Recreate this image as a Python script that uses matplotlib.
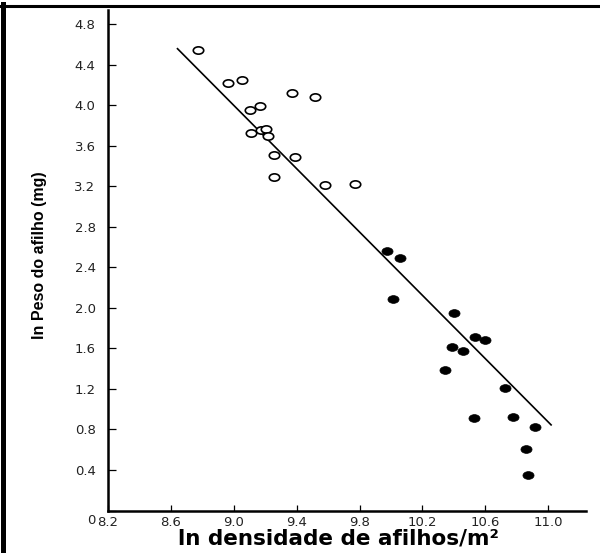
import matplotlib
matplotlib.use("Agg")
import matplotlib.pyplot as plt
from matplotlib.lines import Line2D
from matplotlib.path import Path
from matplotlib.transforms import Affine2D, ScaledTranslation

# open circles (lower density) and filled circles (higher density)
open_x = [8.774, 8.960, 9.055, 9.369, 9.518, 9.106, 9.165, 9.111, 9.170, 9.202,
          9.219, 9.257, 9.388, 9.257, 9.581, 9.772]
open_y = [4.541, 4.216, 4.252, 4.117, 4.084, 3.953, 3.995, 3.722, 3.758, 3.761,
          3.699, 3.504, 3.494, 3.291, 3.208, 3.225]
filled_x = [9.975, 10.054, 10.011, 10.399, 10.532, 10.600, 10.389, 10.456, 10.342,
            10.723, 10.526, 10.774, 10.918, 10.861, 10.872]
filled_y = [2.563, 2.491, 2.089, 1.948, 1.711, 1.681, 1.615, 1.575, 1.388,
            1.213, 0.914, 0.926, 0.822, 0.604, 0.348]

# fitted regression line end points
line_x = [8.642, 11.018]
line_y = [4.558, 0.845]

x_ticks = [8.2, 8.6, 9.0, 9.4, 9.8, 10.2, 10.6, 11.0]
y_ticks = [0, 0.4, 0.8, 1.2, 1.6, 2.0, 2.4, 2.8, 3.2, 3.6, 4.0, 4.4, 4.8]
y_tick_labels = ["0", "0.4", "0.8", "1.2", "1.6", "2.0", "2.4", "2.8",
                 "3.2", "3.6", "4.0", "4.4", "4.8"]

fig = plt.figure(figsize=(6.0, 5.53), dpi=100)
ax = fig.add_axes([108 / 600, 42.5 / 553, (586 - 108) / 600, (510.5 - 10) / 553])

# slightly squashed circle marker, like the scanned figure
ellipse = Path.unit_circle().transformed(Affine2D().scale(1.0, 0.7))

ax.plot(line_x, line_y, color="black", lw=1.2, zorder=2)
ax.plot(open_x, open_y, linestyle="none", marker=ellipse, markersize=7.5,
        markerfacecolor="white", markeredgecolor="black", markeredgewidth=1.2, zorder=3)
ax.plot(filled_x, filled_y, linestyle="none", marker=ellipse, markersize=8,
        markerfacecolor="black", markeredgecolor="black", markeredgewidth=0.5, zorder=3)

ax.set_xlim(8.2, 11.24)
ax.set_ylim(0, 4.94)
ax.set_xticks(x_ticks)
ax.set_xticklabels([f"{v:.1f}" for v in x_ticks])
ax.set_yticks(y_ticks)
ax.set_yticklabels(y_tick_labels)

ax.spines[["top", "right"]].set_visible(False)
for side in ["left", "bottom"]:
    ax.spines[side].set_linewidth(1.8)
ax.tick_params(axis="y", direction="in", length=6, width=0.9, pad=9,
               labelsize=9.5, labelcolor="#222222")
ax.tick_params(axis="x", direction="in", length=4, width=0.9, pad=4,
               labelsize=9.5, labelcolor="#222222")

# the "0" label sits a little below the axis in the original
lab0 = ax.get_yticklabels()[0]
lab0.set_transform(lab0.get_transform() + ScaledTranslation(0, -9 / 100, fig.dpi_scale_trans))

ax.set_xlabel("ln densidade de afilhos/m²", fontsize=15.5, fontweight="bold",
              family="DejaVu Sans")
ax.xaxis.set_label_coords((339 - 108) / 478, -(529 - 510.5) / 500.5)
ax.set_ylabel("ln Peso do afilho (mg)", fontsize=11.5, fontweight="bold",
              family=["Liberation Sans", "DejaVu Sans"])
ax.yaxis.set_label_coords(-(108 - 40) / 478, (510.5 - 255) / 500.5)
ax.yaxis.label.set_va("center")

# frame lines on left and top of the scanned figure
fig.add_artist(Line2D([2.5 / 600, 2.5 / 600], [0, 1 - 4 / 553], color="black", lw=3.6,
                      transform=fig.transFigure))
fig.add_artist(Line2D([0, 1], [1 - 5.5 / 553, 1 - 5.5 / 553], color="black", lw=2.2,
                      transform=fig.transFigure))

fig.savefig("out.png", dpi=100)
